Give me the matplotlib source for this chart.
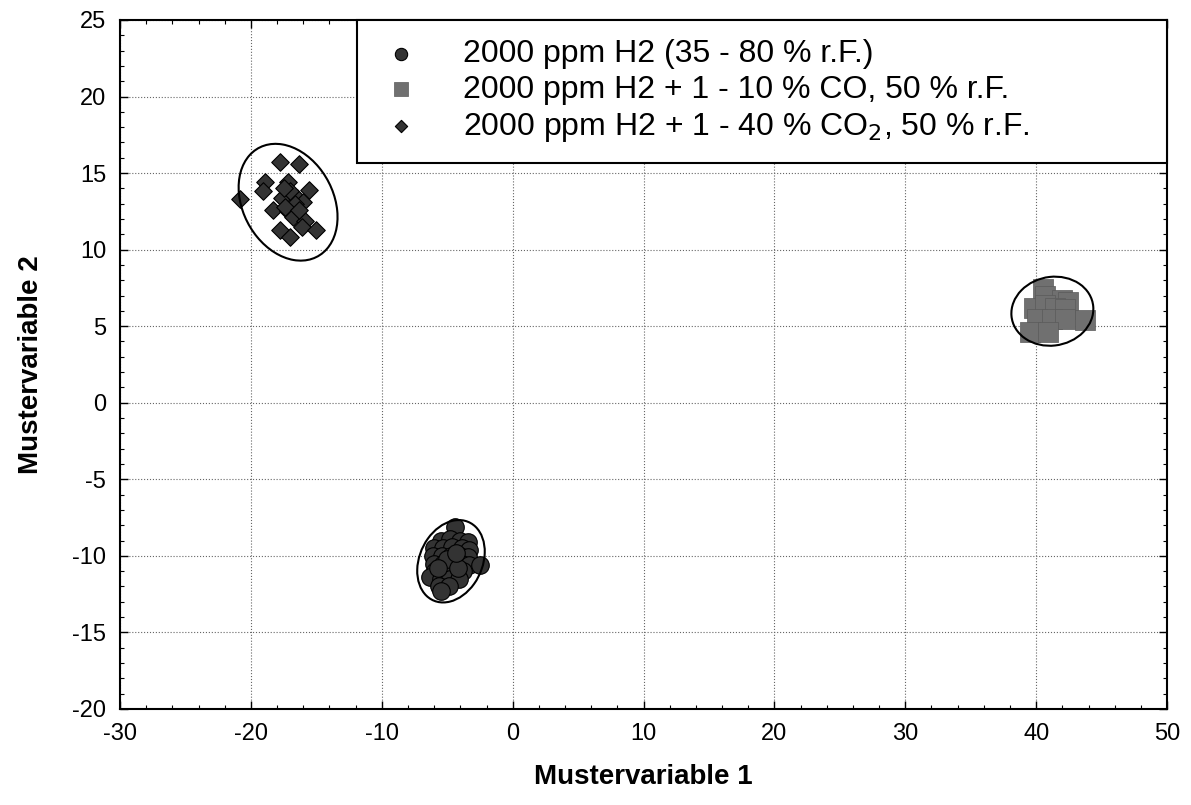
#Scatter plot of the pattern variables (Mustervariable 1 vs 2) for three gas mixtures,
#with a confidence ellipse drawn around each cluster

import matplotlib
matplotlib.use('Agg')
import matplotlib.pyplot as plt
import numpy as np
from matplotlib.patches import Ellipse
from matplotlib.ticker import MultipleLocator

plt.rcParams['font.family'] = ['Liberation Sans', 'DejaVu Sans']
plt.rcParams['axes.unicode_minus'] = False

#H2 only, 35 - 80 % r.F.
h2_x = [-4.4, -5.5, -4.8, -4.0, -3.4, -6.0, -5.3, -4.6, -3.9, -3.3,
        -6.1, -5.4, -4.7, -4.0, -3.4, -6.0, -5.3, -4.6, -3.9, -3.3, -2.5,
        -5.9, -5.2, -4.5, -3.8, -6.3, -5.5, -4.8, -4.1, -5.6, -4.9, -5.5,
        -5.0, -4.2, -5.7, -4.3]
h2_y = [-8.1, -9.0, -8.9, -9.0, -9.1, -9.5, -9.5, -9.4, -9.5, -9.6,
        -10.0, -10.0, -10.0, -10.0, -10.1, -10.5, -10.5, -10.5, -10.5, -10.6, -10.6,
        -11.0, -11.0, -11.0, -11.0, -11.4, -11.5, -11.5, -11.5, -12.0, -12.0, -12.3,
        -10.2, -10.8, -10.8, -9.8]

#H2 + CO
co_x = [40.5, 40.7, 42.0, 42.4, 39.8, 40.7, 41.4, 42.2, 40.1, 41.2, 42.2, 43.7, 39.5, 40.9]
co_y = [7.4, 7.0, 6.7, 6.6, 6.2, 6.4, 6.2, 6.1, 5.5, 5.5, 5.5, 5.4, 4.6, 4.6]

#H2 + CO2
co2_x = [-17.8, -16.3, -18.9, -17.2, -19.1, -15.6, -17.6, -16.5, -16.0, -18.3, -17.2,
         -16.8, -15.9, -16.1, -17.8, -17.0, -15.0, -20.8, -17.0, -16.6, -17.4, -16.3, -17.5]
co2_y = [15.7, 15.6, 14.4, 14.4, 13.8, 13.9, 13.4, 13.4, 13.1, 12.6, 12.5,
         12.1, 11.9, 11.5, 11.3, 10.8, 11.3, 13.3, 13.8, 13.0, 12.8, 12.6, 14.0]

labels = ['2000 ppm H2 (35 - 80 % r.F.)',
          '2000 ppm H2 + 1 - 10 % CO, 50 % r.F.',
          '2000 ppm H2 + 1 - 40 % CO$_2$, 50 % r.F.']


def conf_ellipse(ax, x, y, n_std):
    #ellipse from the covariance of the cluster
    x = np.asarray(x)
    y = np.asarray(y)
    cov = np.cov(x, y)
    vals, vecs = np.linalg.eigh(cov)
    order = vals.argsort()[::-1]
    vals = vals[order]
    vecs = vecs[:, order]
    angle = np.degrees(np.arctan2(vecs[1, 0], vecs[0, 0]))
    w, h = 2 * n_std * np.sqrt(vals)
    e = Ellipse((x.mean(), y.mean()), w, h, angle=angle, fill=False,
                edgecolor='black', linewidth=1.5, zorder=4)
    ax.add_patch(e)


fig, ax = plt.subplots(figsize=(11.91, 8.05), dpi=100)
fig.subplots_adjust(left=0.1008, right=0.9799, top=0.9752, bottom=0.1193)

ax.scatter(h2_x, h2_y, s=160, marker='o', c='#333333', edgecolors='black',
           linewidths=0.8, zorder=3, label=labels[0])
ax.scatter(co_x, co_y, s=210, marker='s', c='#707070', edgecolors='#5a5a5a',
           linewidths=0.5, zorder=3, label=labels[1])
ax.scatter(co2_x, co2_y, s=80, marker='D', c='#333333', edgecolors='black',
           linewidths=0.8, zorder=3, label=labels[2])

conf_ellipse(ax, h2_x, h2_y, 2.75)
conf_ellipse(ax, co_x, co_y, 2.7)
conf_ellipse(ax, co2_x, co2_y, 2.95)

ax.set_xlim(-30, 50)
ax.set_ylim(-20, 25)
ax.xaxis.set_major_locator(MultipleLocator(10))
ax.xaxis.set_minor_locator(MultipleLocator(2))
ax.yaxis.set_major_locator(MultipleLocator(5))
ax.yaxis.set_minor_locator(MultipleLocator(1))
ax.tick_params(which='both', direction='in', top=True, right=True, labelsize=17, pad=10)
ax.tick_params(which='major', length=6, width=1)
ax.tick_params(which='minor', length=3, width=0.8)
ax.grid(True, which='major', linestyle=':', color='#666666', linewidth=0.8)
for sp in ax.spines.values():
    sp.set_linewidth(1.5)

ax.set_xlabel('Mustervariable 1', fontsize=20, fontweight='bold', labelpad=14)
ax.set_ylabel('Mustervariable 2', fontsize=20, fontweight='bold', labelpad=20)

#legend box runs from about x = -12 over to the right spine
leg = ax.legend(loc='upper left', bbox_to_anchor=(0.2264, 0, 0.7736, 1), mode='expand',
                borderaxespad=0, fontsize=23, fancybox=False,
                edgecolor='black', framealpha=1, markerscale=0.7,
                handletextpad=1.15, labelspacing=0.18, borderpad=0.6,
                handlelength=1.55)
leg.get_frame().set_linewidth(1.5)
leg.set_zorder(5)

plt.savefig('out.png', dpi=100)
